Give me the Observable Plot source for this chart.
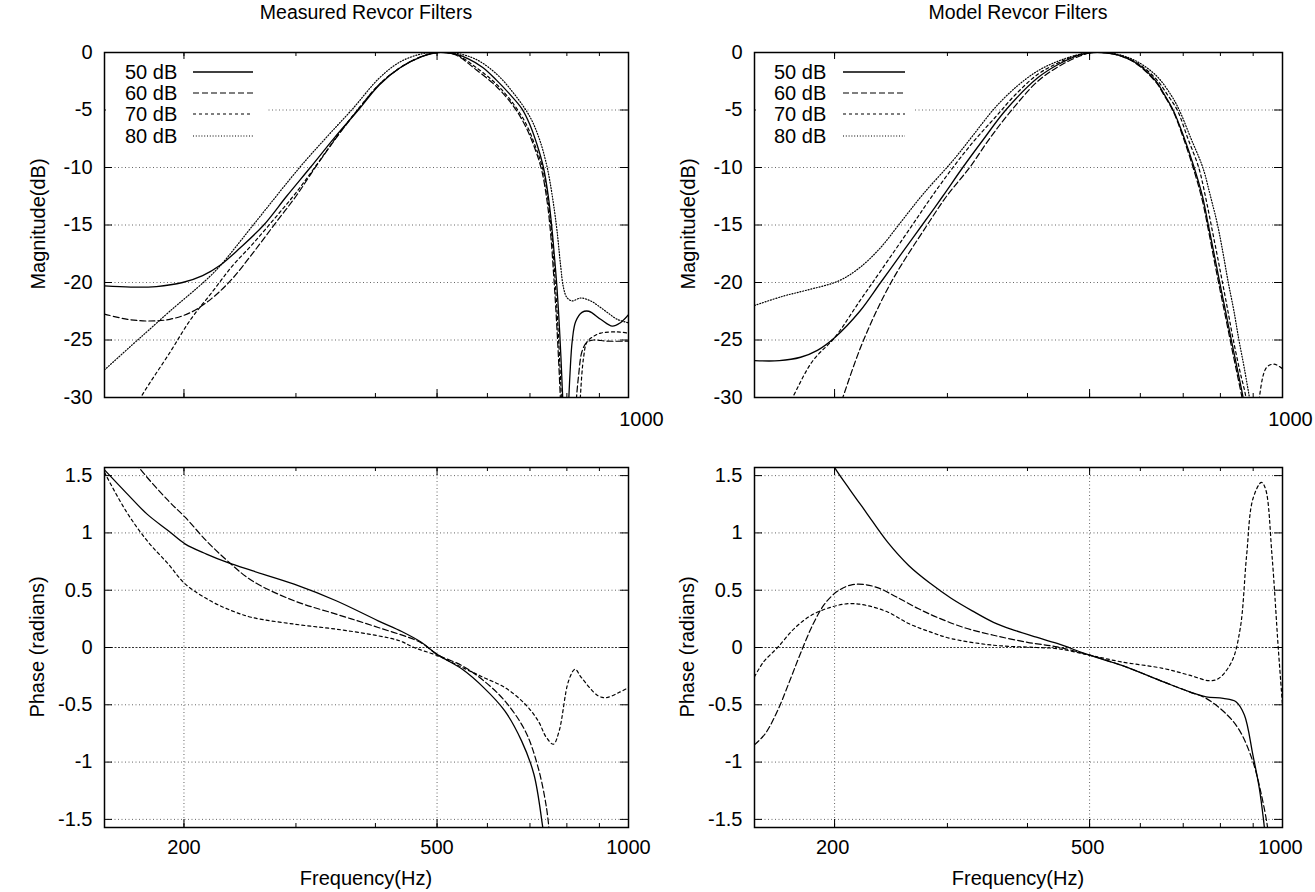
<!DOCTYPE html>
<html>
<head>
<meta charset="utf-8">
<script src="https://cdn.jsdelivr.net/npm/d3@7"></script>
<script src="https://cdn.jsdelivr.net/npm/@observablehq/plot@0.6"></script>
<style>
  body { margin: 0; background: #fff; }
  #root { position: relative; width: 1315px; height: 892px; background: #fff; overflow: hidden;
          font-family: "Liberation Sans", Arial, Helvetica, sans-serif; color: #000; }
  .panel { position: absolute; }
  .txt { position: absolute; font-size: 20px; white-space: nowrap; transform: translate(-50%, -50%); line-height: 1; }
  .rot { transform: translate(-50%, -50%) rotate(-90deg); }
</style>
</head>
<body>
<div id="root"></div>
<script>
// ---------------- data ----------------
const seriesLabels = ["50 dB", "60 dB", "70 dB", "80 dB"];

// x tick values (Hz)
const xMajorTicks = [200, 500, 1000];
const xMinorTicks = [200, 300, 400, 500, 600, 700, 800, 900];
const magTicks = [0, -5, -10, -15, -20, -25, -30];
const phaseTicks = [1.5, 1, 0.5, 0, -0.5, -1, -1.5];

// Measured magnitude (dB)
const measMag50F = [150,165,181,199,214,228,245,267,290,316,345,376,406,438,473,502,534,560,590,620,650,680,700,718,735,748,757,765,772,778,783,788,792,797,803,809,816,826,845,866,904,943,971,1000];
const measMag50  = [-20.3,-20.4,-20.35,-20.0,-19.4,-18.5,-17.0,-15.0,-12.5,-10.0,-7.4,-5.0,-2.8,-1.3,-0.35,0,-0.15,-0.55,-1.3,-2.4,-3.6,-4.9,-6.3,-8.0,-10.0,-12.5,-15.0,-17.8,-20.5,-23.5,-26.5,-30,-34,-36,-32,-28,-25,-23.4,-22.6,-22.5,-23.2,-23.8,-23.5,-22.8];
const measMag60F = [150,163,176,190,205,221,238,257,278,300,323,349,376,406,438,473,502,534,576,621,660,690,712,730,745,755,763,770,776,782,788,800,815,826,835,845,860,881,926,1000];
const measMag60  = [-22.75,-23.2,-23.35,-23.2,-22.6,-21.4,-19.7,-17.4,-14.9,-12.5,-9.86,-7.25,-4.93,-2.75,-1.3,-0.35,0,-0.2,-1.5,-3.0,-4.7,-6.5,-8.3,-10.2,-13,-16,-19.5,-23,-26.5,-30.5,-35,-38,-38,-31,-28,-26,-25.2,-25.0,-25.1,-25.1];
const measMag70F = [160,171,190,205,221,238,257,278,300,323,349,376,406,438,473,502,534,576,621,660,690,712,733,748,758,766,773,779,785,792,815,835,840,850,860,880,904,960,1000];
const measMag70  = [-33,-30,-26.1,-23.2,-20.9,-18.6,-16.6,-14.4,-12.2,-9.8,-7.2,-4.9,-2.75,-1.3,-0.35,0,-0.15,-1.3,-2.8,-4.5,-6.2,-8.0,-10.1,-13,-16,-19.5,-23,-26.5,-30.5,-35,-40,-34,-30,-26.5,-25.2,-24.7,-24.4,-24.3,-24.4];
const measMag80F = [150,166,176,190,216,228,257,304,336,369,406,438,473,502,534,576,621,661,700,725,745,760,772,782,790,800,815,841,872,900,926,960,1000];
const measMag80  = [-27.6,-25.4,-24.15,-22.5,-19.85,-18.55,-15.0,-10.0,-7.3,-4.85,-2.2,-0.8,-0.12,0,-0.05,-0.6,-1.9,-3.6,-5.6,-7.6,-10,-12.7,-15.5,-18.5,-20.4,-21.3,-21.6,-21.35,-21.6,-22.1,-22.6,-23.2,-23.5];

// Model magnitude (dB)
const modMag50F = [150,164,177,188,200,219,236,255,274,295,317,342,370,415,448,483,506,546,589,635,650,675,700,728,750,766,782,798,815,832,850,868,885];
const modMag50  = [-26.8,-26.8,-26.5,-25.9,-24.8,-22.5,-20.0,-17.4,-15.0,-12.5,-10.0,-7.5,-5.0,-2.2,-1.0,-0.2,0,-0.15,-0.87,-2.5,-3.4,-5.0,-7.2,-10.0,-12.5,-15.0,-17.5,-20.0,-22.5,-25.0,-27.5,-30.0,-33];
const modMag60F = [195,206,222,245,279,300,325,350,378,415,448,483,506,546,589,635,650,675,700,728,750,766,782,798,815,832,850,868,885];
const modMag60  = [-34,-30,-25,-20,-15,-12.4,-10,-7.4,-5,-2.5,-1.2,-0.3,0,-0.15,-0.9,-2.6,-3.5,-5.1,-7.4,-10.3,-12.9,-15.4,-18,-20.5,-23,-25.5,-28,-30.5,-33.5];
const modMag70F = [160,172,185,200,219,236,263,283,306,330,356,384,415,448,483,506,546,589,635,660,685,712,740,758,774,790,806,822,838,858,877,890,902,915,944,970,1000];
const modMag70  = [-33.5,-30,-26.8,-24.8,-21.6,-19,-15.2,-12.6,-10,-7.7,-5.65,-3.6,-1.9,-0.87,-0.15,0,-0.12,-0.8,-2.3,-3.6,-5,-7.5,-10,-12.5,-15,-17.5,-20,-22.5,-25,-27.7,-30,-33,-34,-31,-27.4,-27.1,-27.5];
const modMag80F = [150,166,180,203,219,236,255,275,306,330,356,384,415,448,483,506,546,589,635,670,690,720,751,772,792,808,823,840,855,872,888,900];
const modMag80  = [-22,-21.2,-20.7,-19.86,-18.7,-16.96,-14.6,-12.3,-9.4,-7.1,-4.8,-3.0,-1.6,-0.72,-0.15,0,-0.1,-0.7,-2.0,-3.7,-5.0,-7.5,-10,-12.5,-15,-17.5,-20,-22.5,-25,-27.5,-30,-32];

// Measured phase (radians)
const measPh50F = [150,162,175,189,201,217,234,256,298,347,404,440,471,500,548,592,639,679,710,732,740];
const measPh50  = [1.55,1.354,1.164,1.019,0.902,0.815,0.742,0.67,0.553,0.408,0.233,0.14,0.05,-0.06,-0.19,-0.35,-0.553,-0.815,-1.106,-1.543,-1.75];
const measPh60F = [165,170,189,201,217,234,256,298,347,404,471,500,548,592,639,688,721,743,752];
const measPh60  = [1.68,1.57,1.281,1.135,0.93,0.757,0.582,0.408,0.291,0.175,0.044,-0.06,-0.16,-0.29,-0.466,-0.728,-1.048,-1.397,-1.65];
const measPh70F = [150,162,175,189,201,220,238,256,298,347,404,437,460,500,548,592,639,688,721,743,762,778,805,824,843,896,923,966,1000];
const measPh70  = [1.528,1.194,0.932,0.728,0.553,0.408,0.32,0.262,0.204,0.16,0.102,0.058,0.0,-0.07,-0.175,-0.262,-0.349,-0.495,-0.64,-0.786,-0.844,-0.728,-0.291,-0.19,-0.262,-0.422,-0.437,-0.393,-0.35];

// Model phase (radians)
const modPh50F = [197,200,211,224,242,261,282,304,328,354,382,413,445,500,560,652,715,760,808,846,872,899,920,934,940];
const modPh50  = [1.65,1.572,1.383,1.18,0.919,0.716,0.56,0.43,0.32,0.22,0.15,0.09,0.035,-0.067,-0.154,-0.3,-0.386,-0.43,-0.444,-0.473,-0.589,-0.937,-1.227,-1.502,-1.65];
const modPh60F = [150,156,163,170,177,185,193,202,212,222,234,250,270,290,320,354,400,445,500,560,652,715,760,820,859,899,927,948,952];
const modPh60  = [-0.85,-0.75,-0.55,-0.3,-0.05,0.2,0.38,0.49,0.545,0.55,0.52,0.44,0.34,0.26,0.17,0.107,0.045,0.005,-0.067,-0.154,-0.3,-0.386,-0.444,-0.589,-0.734,-0.995,-1.285,-1.575,-1.7];
const modPh70F = [150,155,163,173,184,198,211,224,242,261,282,304,354,413,445,500,560,652,715,770,795,833,859,879,899,927,941,963,985,1000];
const modPh70  = [-0.255,-0.125,0,0.165,0.281,0.354,0.383,0.368,0.31,0.209,0.136,0.078,0.02,0.0,-0.01,-0.067,-0.125,-0.183,-0.241,-0.29,-0.27,-0.125,0.165,0.803,1.296,1.441,1.383,0.803,-0.009,-0.5];

// ---------------- styling ----------------
const dashFor = [null, "6,3", "3,3", "1,1.8"];
const FONT = "'Liberation Sans', Arial, Helvetica, sans-serif";
const root = document.getElementById("root");

function rows(F, V) { return F.map((f, i) => ({f, v: V[i]})); }

function panel(cfg) {
  const {box, frame, yDomain, yTicks, xLabels, xLabelDx, xLabelPad, vGrid, darkZero, series} = cfg;
  const mL = frame.x0 - box.left, mR = box.left + box.width - frame.x1;
  const mT = frame.y0 - box.top, mB = box.top + box.height - frame.y1;
  const innerW = frame.x1 - frame.x0, innerH = frame.y1 - frame.y0;
  const tl = 8, tm = 4;
  const gridY = darkZero ? yTicks.filter(d => d !== 0) : yTicks;
  const marks = [
    Plot.ruleY(gridY, {y: d => d, stroke: "#666", strokeWidth: 1, strokeDasharray: "1,2.5"}),
    darkZero ? Plot.ruleY([0], {y: d => d, stroke: "#333", strokeWidth: 1.2, strokeDasharray: "2,1.5"}) : null,
    vGrid ? Plot.ruleX(vGrid, {x: d => d, stroke: "#666", strokeWidth: 1, strokeDasharray: "1,2.5"}) : null,
    Plot.ruleY(yTicks, {y: d => d, insetRight: innerW - tl, stroke: "#000"}),
    Plot.ruleY(yTicks, {y: d => d, insetLeft: innerW - tl, stroke: "#000"}),
    Plot.ruleX(xMinorTicks, {x: d => d, insetTop: innerH - tm, stroke: "#000"}),
    Plot.ruleX(xMinorTicks, {x: d => d, insetBottom: innerH - tm, stroke: "#000"}),
    Plot.ruleX([200, 500], {x: d => d, insetTop: innerH - tl, stroke: "#000"}),
    Plot.ruleX([200, 500], {x: d => d, insetBottom: innerH - tl, stroke: "#000"}),
    ...series.map(s => Plot.line(s.data, {
      x: "f", y: "v", curve: "catmull-rom", clip: true,
      stroke: "#000", strokeWidth: s.dash ? 1.2 : 1.3, strokeDasharray: s.dash
    })),
    Plot.axisY(yTicks, {anchor: "left", tickSize: 0, tickPadding: 12, tickFormat: d => String(d),
      fontSize: 20, label: null, fill: "#000"}),
    Plot.axisX(xLabels, {anchor: "bottom", tickSize: 0, tickPadding: xLabelPad, dx: xLabelDx,
      tickFormat: d => String(d), fontSize: 20, label: null, fill: "#000"}),
    Plot.frame({stroke: "#000", strokeWidth: 1.5})
  ].filter(Boolean);
  const svg = Plot.plot({
    width: box.width, height: box.height,
    marginLeft: mL, marginRight: mR, marginTop: mT, marginBottom: mB,
    style: {fontFamily: FONT, fontSize: "20px", background: "transparent", color: "#000", overflow: "visible"},
    x: {type: "log", domain: [150, 1000], axis: null},
    y: {domain: yDomain, axis: null},
    marks
  });
  svg.classList.add("panel");
  svg.style.left = box.left + "px";
  svg.style.top = box.top + "px";
  root.appendChild(svg);
}

const TL = {x0: 104, x1: 628, y0: 52, y1: 397};
const TR = {x0: 754, x1: 1282, y0: 52, y1: 397};
const BL = {x0: 104, x1: 628, y0: 467, y1: 827};
const BR = {x0: 754, x1: 1282, y0: 467, y1: 827};

const mkSeries = (A) => A.map((d, i) => ({data: rows(d[0], d[1]), dash: dashFor[i]}));

panel({box: {left: 0, top: 0, width: 657, height: 440}, frame: TL, yDomain: [-30, 0], yTicks: magTicks,
  xLabels: [1000], xLabelDx: 13, xLabelPad: 14, vGrid: null, darkZero: false,
  series: mkSeries([[measMag50F, measMag50], [measMag60F, measMag60], [measMag70F, measMag70], [measMag80F, measMag80]])});
panel({box: {left: 657, top: 0, width: 658, height: 440}, frame: TR, yDomain: [-30, 0], yTicks: magTicks,
  xLabels: [1000], xLabelDx: 8, xLabelPad: 14, vGrid: null, darkZero: false,
  series: mkSeries([[modMag50F, modMag50], [modMag60F, modMag60], [modMag70F, modMag70], [modMag80F, modMag80]])});
panel({box: {left: 0, top: 440, width: 657, height: 452}, frame: BL, yDomain: [-Math.PI / 2, Math.PI / 2], yTicks: phaseTicks,
  xLabels: xMajorTicks, xLabelDx: 0, xLabelPad: 12, vGrid: [200, 500], darkZero: true,
  series: mkSeries([[measPh50F, measPh50], [measPh60F, measPh60], [measPh70F, measPh70]])});
panel({box: {left: 657, top: 440, width: 658, height: 452}, frame: BR, yDomain: [-Math.PI / 2, Math.PI / 2], yTicks: phaseTicks,
  xLabels: xMajorTicks, xLabelDx: -2, xLabelPad: 12, vGrid: [200, 500], darkZero: true,
  series: mkSeries([[modPh50F, modPh50], [modPh60F, modPh60], [modPh70F, modPh70]])});

// ---------------- legends (key boxes) ----------------
const ov = d3.select(root).append("svg")
  .attr("width", 1315).attr("height", 892)
  .style("position", "absolute").style("left", 0).style("top", 0).style("pointer-events", "none");
function legend(x0, textX, lineX0, lineX1, boxX1) {
  const rowsY = [72, 93, 114, 136];
  ov.append("rect").attr("x", x0).attr("y", 59).attr("width", boxX1 - x0).attr("height", 88).attr("fill", "#fff");
  seriesLabels.forEach((lab, i) => {
    ov.append("text").attr("x", textX).attr("y", rowsY[i]).attr("dy", "0.35em")
      .attr("font-family", FONT).attr("font-size", 20).attr("fill", "#000").text(lab);
    ov.append("line").attr("x1", lineX0).attr("x2", lineX1).attr("y1", rowsY[i]).attr("y2", rowsY[i])
      .attr("stroke", "#000").attr("stroke-width", i === 0 ? 1.3 : 1.2)
      .attr("stroke-dasharray", dashFor[i]);
  });
}
legend(106, 125, 193, 253, 266);
legend(756, 774, 843, 905, 915);

// ---------------- titles and axis labels ----------------
function txt(s, x, y, rot, size) {
  const d = document.createElement("div");
  d.className = "txt" + (rot ? " rot" : "");
  d.textContent = s;
  d.style.left = x + "px"; d.style.top = y + "px";
  if (size) d.style.fontSize = size + "px";
  root.appendChild(d);
}
txt("Measured Revcor Filters", 366, 13, false, 19.5);
txt("Model Revcor Filters", 1018, 13, false, 19.5);
txt("Magnitude(dB)", 38, 224, true);
txt("Magnitude(dB)", 688, 224, true);
txt("Phase (radians)", 37, 647, true);
txt("Phase (radians)", 687, 647, true);
txt("Frequency(Hz)", 366, 878, false);
txt("Frequency(Hz)", 1018, 878, false);
</script>
</body>
</html>
